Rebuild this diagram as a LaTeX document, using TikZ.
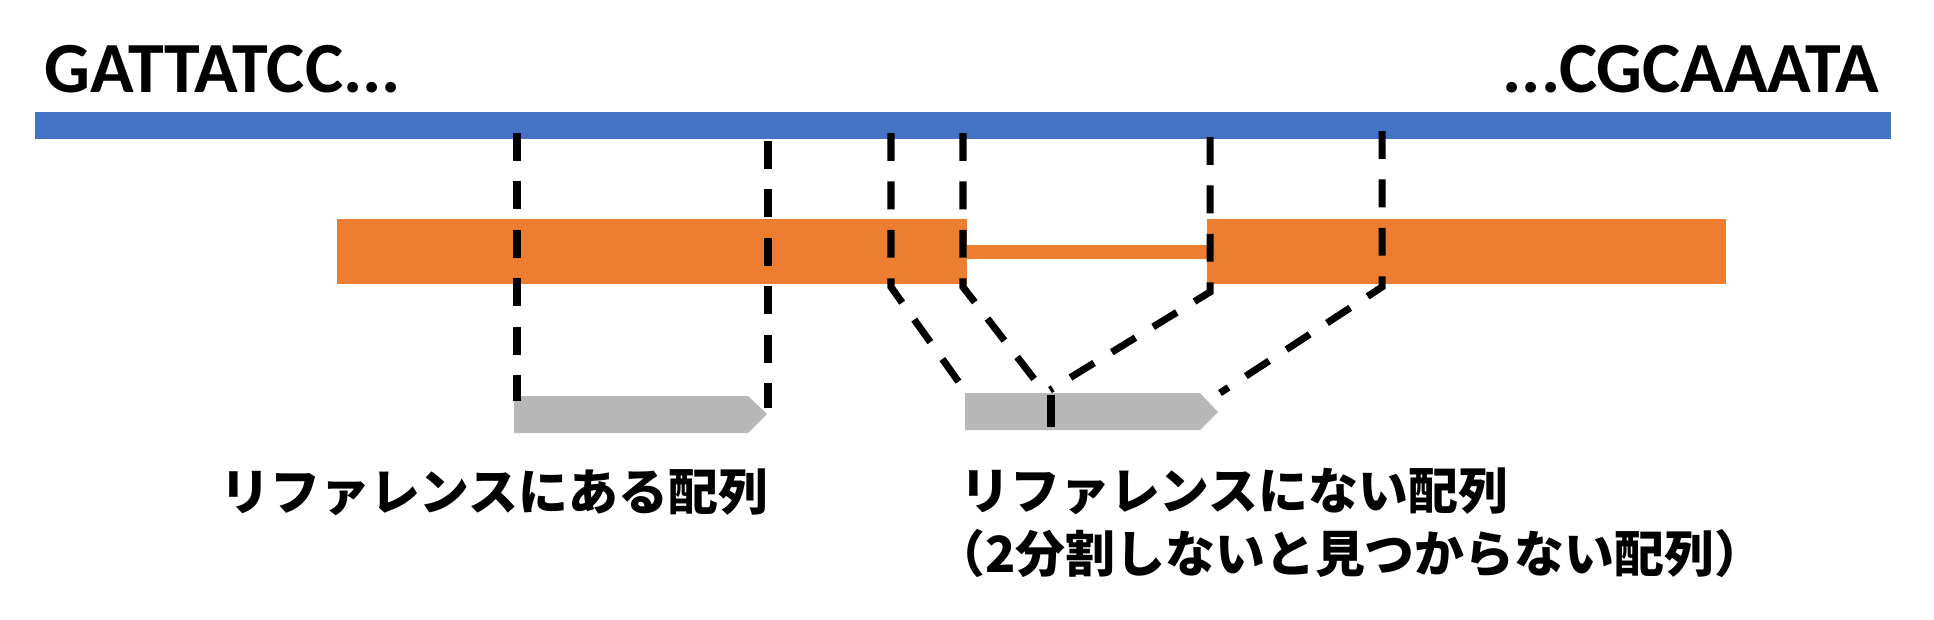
\documentclass[tikz,border=0pt]{standalone}
\usepackage{fontspec}
\setmainfont{Carlito}
\newfontfamily\jpfont{Noto Sans CJK JP}
\definecolor{refblue}{HTML}{4472C4}
\definecolor{readorange}{HTML}{ED7D31}
\definecolor{hitgray}{HTML}{B8B8B8}

\begin{document}
\begin{tikzpicture}[x=0.02cm, y=-0.02cm,
    seq/.style={inner sep=0pt, font=\bfseries\fontsize{41}{42}\selectfont},
    lbl/.style={inner sep=0pt, align=left, font=\jpfont\bfseries\fontsize{28.4}{35.3}\selectfont},
    cut/.style={line width=4pt, dash pattern=on 15.8pt off 11.8pt},
    hit/.style={fill=hitgray}
]
\useasboundingbox (0,0) rectangle (1934,619);

% reference (blue) and read (orange)
\fill[refblue] (35,112) rectangle (1891,139);
\fill[readorange] (337,219) rectangle (967,284);
\fill[readorange] (967,245) rectangle (1207,259);
\fill[readorange] (1207,219) rectangle (1726,284);

\node[seq, anchor=base west] (seqL) at (44,92) {GATTATCC...};
\node[seq, anchor=base east] (seqR) at (1880,92) {...CGCAAATA};

% mapped pieces
\fill[hit] (514,396) -- (748,396) -- (767,414) -- (748,433) -- (514,433) -- cycle;
\fill[hit] (965,393) -- (1200,393) -- (1218,412) -- (1200,430) -- (965,430) -- cycle;

\coordinate (refA) at (517,133);  \coordinate (hitA) at (517,401);
\coordinate (refB) at (768,141);  \coordinate (hitB) at (768,408);
\coordinate (refC) at (891,133);  \coordinate (readC) at (891,287); \coordinate (hitC) at (968,395);
\coordinate (refD) at (963,133);  \coordinate (readD) at (963,287); \coordinate (hitD) at (1045,393);
\coordinate (refE) at (1210,137); \coordinate (readE) at (1210,292); \coordinate (hitE) at (1050,390);
\coordinate (refF) at (1382,131); \coordinate (readF) at (1382,287); \coordinate (hitF) at (1220,393);
\coordinate (splitT) at (1051,395); \coordinate (splitB) at (1051,427);

\draw[cut] (refA) -- (hitA);
\draw[cut] (refB) -- (hitB);
\draw[cut] (refC) -- (readC) -- (hitC);
\draw[cut] (refD) -- (readD) -- (hitD);
\draw[cut] (refE) -- (readE) -- (hitE);
\draw[cut] (refF) -- (readF) -- (hitF);
\draw[line width=4pt] (splitT) -- (splitB);

\node[lbl, anchor=base west] (inref) at (220,510) {リファレンスにある配列};
\node[lbl, anchor=base west] (notref) at (960,572) {リファレンスにない配列\\\hspace{-0.5em}（2分割しないと見つからない配列）};
\end{tikzpicture}
\end{document}
